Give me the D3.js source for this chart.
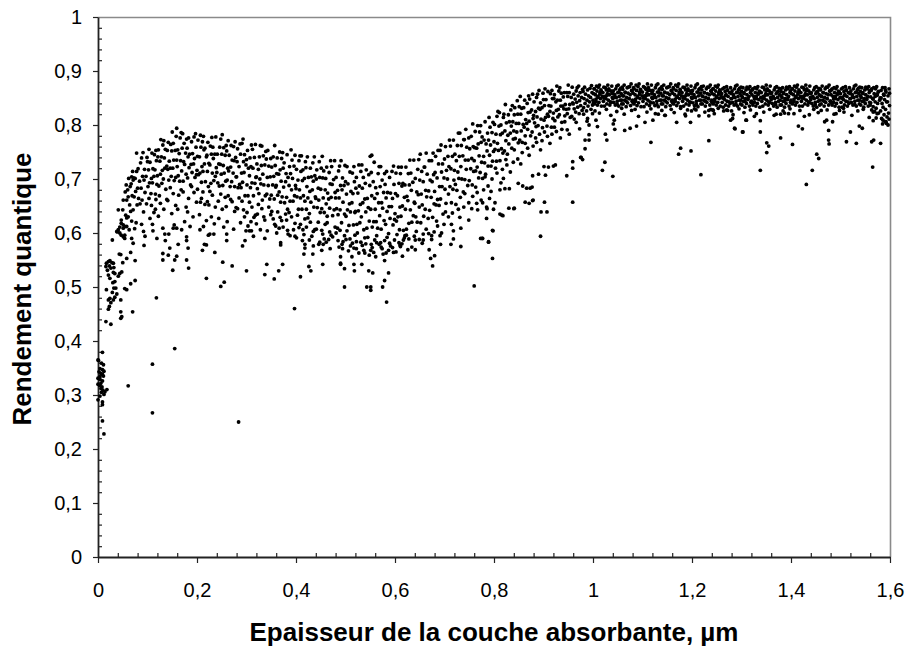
<!DOCTYPE html>
<html><head><meta charset="utf-8">
<script src="https://cdn.jsdelivr.net/npm/d3@7"></script>
<style>
body{margin:0;background:#fff}
svg{display:block}
text{font-family:"Liberation Sans",Arial,Helvetica,sans-serif;fill:#000}
</style>
</head><body>
<svg id="chart" width="909" height="650"></svg>
<script>
// [thickness (µm), quantum yield]
const edgeCluster = [
[.000,.365],[.001,.364],[.009,.379],[.007,.359],[.011,.356],[.004,.349],[.009,.347],[.012,.344],[.006,.340],[.009,.338],[.011,.335],[.000,.331],[.004,.329],[.009,.326],[.006,.322],[.000,.320],[.003,.318],[.008,.315],[.006,.312],[.010,.309],[.014,.306],[.012,.301],[.018,.310],[.000,.291],[.009,.287],[.009,.282],[.009,.252],[.012,.228],[.004,.334],[.002,.343],[.007,.305],[.004,.298],
[.017,.544],[.021,.547],[.024,.549],[.028,.545],[.031,.544],[.023,.539],[.016,.538],[.026,.535],[.032,.536],[.019,.531],[.031,.527],[.021,.522],[.034,.525],[.024,.516],[.030,.508],[.034,.510],[.036,.498],[.032,.498],[.017,.495],[.029,.490],[.038,.487],[.024,.479],[.021,.476],[.031,.476],[.026,.471],[.023,.464],[.021,.459],[.046,.476],[.034,.481],[.016,.436],[.026,.431],[.046,.442],[.048,.445],[.046,.454],
[.043,.561],[.046,.560],[.050,.545],[.048,.528],[.044,.525],[.041,.520],[.029,.587],[.038,.603],[.041,.606],[.044,.600],[.047,.596],[.051,.593],[.054,.590],[.051,.615],[.054,.612],[.047,.618],[.058,.612],[.039,.602],[.044,.611],[.051,.609],[.054,.596],[.056,.633],[.050,.643],[.041,.643],[.051,.661],[.058,.661],[.055,.676],[.057,.689],[.047,.624],[.058,.628]
];
const rampA = [
[.061,.667],[.065,.686],[.071,.698],[.068,.704],[.075,.701],[.078,.748],
[.063,.606],[.074,.608],[.068,.622],[.077,.619],[.061,.630],[.071,.643],[.066,.640],[.079,.652],[.064,.652],[.073,.667],[.069,.669],[.060,.680],[.076,.677],[.067,.691],[.072,.702],[.062,.701],[.078,.714],[.070,.714],
[.092,.639],[.085,.654],[.098,.654],[.082,.664],[.089,.661],[.095,.675],[.080,.683],[.087,.683],[.093,.698],[.084,.696],[.097,.705],[.090,.705],[.081,.719],[.094,.718],[.086,.730],[.099,.740],[.088,.739],[.091,.749],
[.107,.673],[.116,.672],[.101,.686],[.110,.693],[.119,.690],[.104,.693],[.113,.705],[.108,.701],[.102,.717],[.115,.717],[.111,.719],[.105,.731],[.118,.734],[.100,.732],[.109,.748],[.114,.745],[.103,.755],[.117,.753],
[.137,.681],[.129,.692],[.123,.687],[.132,.700],[.126,.709],[.120,.706],[.135,.720],[.130,.716],[.139,.724],[.125,.733],[.121,.741],[.134,.739],[.128,.741],[.136,.755],[.122,.754],[.131,.763],[.127,.773],[.133,.771],
[.143,.698],[.154,.697],[.148,.705],[.157,.703],[.141,.718],[.151,.720],[.146,.720],[.159,.735],[.144,.733],[.153,.735],[.149,.752],[.140,.753],[.156,.753],[.147,.764],[.152,.766],[.142,.768],[.158,.779],[.150,.787],[.159,.794],
[.172,.696],[.165,.696],[.178,.709],[.162,.706],[.169,.715],[.175,.727],[.160,.723],[.167,.734],[.173,.732],[.164,.747],[.177,.748],[.170,.757],[.161,.754],[.174,.766],[.166,.776],[.179,.774],[.168,.786],[.171,.784],
[.187,.689],[.196,.703],[.181,.702],[.190,.712],[.199,.708],[.184,.721],[.193,.728],[.188,.727],[.182,.741],[.195,.738],[.191,.747],[.185,.746],[.198,.759],[.180,.757],[.189,.769],[.194,.778],[.183,.776],[.197,.784],
[.217,.695],[.209,.694],[.203,.708],[.212,.714],[.206,.711],[.200,.716],[.215,.728],[.210,.723],[.219,.741],[.205,.741],[.201,.742],[.214,.754],[.208,.759],[.216,.757],[.202,.772],[.211,.769],[.207,.781],[.213,.779],
[.223,.686],[.234,.697],[.228,.692],[.237,.705],[.221,.714],[.231,.711],[.226,.726],[.239,.721],[.224,.729],[.233,.738],[.229,.746],[.220,.744],[.236,.746],[.227,.761],[.232,.759],[.222,.768],[.238,.778],[.230,.777],
[.252,.688],[.245,.687],[.258,.696],[.242,.693],[.249,.709],[.255,.711],[.240,.712],[.247,.727],[.253,.725],[.244,.728],[.257,.744],[.250,.746],[.241,.746],[.254,.758],[.246,.759],[.259,.762],[.248,.774],[.251,.782],
[.267,.686],[.276,.686],[.261,.698],[.270,.695],[.279,.704],[.264,.715],[.273,.711],[.268,.722],[.262,.720],[.275,.734],[.271,.735],[.265,.744],[.278,.740],[.260,.752],[.269,.762],[.274,.760],[.263,.771],[.277,.769],
[.297,.669],[.289,.684],[.283,.684],[.292,.694],[.286,.690],[.280,.704],[.295,.712],[.290,.711],[.299,.726],[.285,.723],[.281,.732],[.294,.732],[.288,.746],[.296,.745],[.282,.756],[.291,.766],[.287,.765],[.293,.774],
[.103,.664],[.108,.651],[.113,.638],[.117,.662],[.105,.627],[.111,.604],[.116,.644],
[.124,.669],[.126,.655],[.133,.644],[.139,.662],[.122,.631],[.131,.609],[.136,.586],
[.146,.684],[.141,.660],[.157,.651],[.152,.673],[.149,.636],[.154,.615],[.143,.598],
[.168,.680],[.163,.670],[.178,.648],[.172,.676],[.161,.644],[.175,.621],[.169,.606],
[.189,.686],[.183,.664],[.199,.657],[.194,.675],[.181,.639],[.192,.630],[.186,.612],
[.201,.681],[.209,.664],[.216,.653],[.212,.676],[.205,.634],[.219,.623],[.207,.657],
[.226,.677],[.221,.658],[.237,.648],[.231,.670],[.229,.630],[.235,.617],[.224,.652],
[.248,.672],[.243,.659],[.251,.644],[.257,.666],[.244,.627],[.254,.611],[.259,.649],
[.263,.669],[.271,.658],[.276,.640],[.268,.662],[.261,.621],[.274,.607],[.279,.647],
[.285,.665],[.282,.645],[.296,.630],[.291,.659],[.288,.619],[.299,.604],[.294,.643]
];
const rampB = [
[.303,.669],[.314,.669],[.308,.684],[.317,.692],[.301,.689],[.311,.693],[.306,.706],[.319,.703],[.304,.720],[.313,.720],[.309,.723],[.300,.736],[.316,.740],[.307,.739],[.312,.755],[.302,.753],[.318,.764],[.310,.763],
[.332,.661],[.325,.673],[.338,.669],[.322,.682],[.329,.691],[.335,.689],[.320,.704],[.327,.700],[.333,.709],[.324,.718],[.337,.726],[.330,.725],[.321,.728],[.334,.743],[.326,.741],[.339,.751],[.328,.762],[.331,.761],
[.347,.663],[.356,.663],[.341,.672],[.350,.670],[.359,.685],[.344,.688],[.353,.689],[.348,.704],[.342,.703],[.355,.705],[.351,.722],[.345,.724],[.358,.725],[.340,.737],[.349,.738],[.354,.741],[.343,.753],[.357,.762],
[.377,.656],[.369,.657],[.363,.670],[.372,.667],[.366,.676],[.360,.688],[.375,.685],[.370,.696],[.379,.695],[.365,.709],[.361,.710],[.374,.720],[.368,.717],[.376,.730],[.362,.739],[.371,.738],[.367,.750],[.373,.749],
[.383,.644],[.394,.659],[.388,.659],[.397,.669],[.381,.666],[.391,.680],[.386,.688],[.399,.688],[.384,.703],[.393,.701],[.389,.710],[.380,.710],[.396,.724],[.387,.723],[.392,.735],[.382,.745],[.398,.744],[.390,.754],
[.412,.644],[.405,.644],[.418,.659],[.402,.667],[.409,.665],[.415,.669],[.400,.682],[.407,.680],[.413,.697],[.404,.698],[.417,.701],[.410,.714],[.401,.718],[.414,.717],[.406,.734],[.419,.732],[.408,.743],[.411,.743],
[.427,.636],[.436,.648],[.421,.644],[.430,.657],[.439,.667],[.424,.665],[.433,.680],[.428,.677],[.422,.686],[.435,.696],[.431,.704],[.425,.703],[.438,.706],[.420,.721],[.429,.720],[.434,.730],[.423,.741],[.437,.741],
[.457,.638],[.449,.638],[.443,.647],[.452,.645],[.446,.661],[.440,.664],[.455,.665],[.450,.681],[.459,.680],[.445,.683],[.441,.700],[.454,.702],[.448,.703],[.456,.715],[.442,.717],[.451,.720],[.447,.732],[.453,.742],
[.463,.631],[.474,.632],[.468,.646],[.477,.643],[.461,.654],[.471,.666],[.466,.663],[.479,.675],[.464,.674],[.473,.690],[.469,.691],[.460,.701],[.476,.699],[.467,.712],[.472,.723],[.462,.722],[.478,.734],[.470,.734],
[.492,.619],[.485,.634],[.498,.635],[.482,.645],[.489,.643],[.495,.657],[.480,.665],[.487,.665],[.493,.680],[.484,.679],[.497,.688],[.490,.688],[.481,.703],[.494,.702],[.486,.715],[.499,.725],[.488,.724],[.491,.734],
[.507,.614],[.516,.615],[.501,.631],[.510,.639],[.519,.638],[.504,.643],[.513,.656],[.508,.654],[.502,.672],[.515,.673],[.511,.677],[.505,.691],[.518,.695],[.500,.695],[.509,.713],[.514,.711],[.503,.723],[.517,.723],
[.537,.606],[.529,.619],[.523,.616],[.532,.630],[.526,.641],[.520,.640],[.535,.656],[.530,.653],[.539,.663],[.525,.674],[.521,.683],[.534,.683],[.528,.687],[.536,.703],[.522,.703],[.531,.714],[.527,.726],[.533,.726],
[.543,.609],[.554,.611],[.548,.622],[.557,.621],[.541,.639],[.551,.644],[.546,.647],[.559,.664],[.544,.664],[.553,.669],[.549,.688],[.540,.692],[.556,.695],[.547,.708],[.552,.712],[.542,.717],[.558,.731],[.550,.742],[.553,.744],
[.572,.607],[.565,.609],[.578,.623],[.562,.621],[.569,.632],[.575,.646],[.560,.644],[.567,.656],[.573,.656],[.564,.673],[.577,.675],[.570,.686],[.561,.684],[.574,.698],[.566,.710],[.579,.710],[.568,.723],[.571,.723],
[.587,.599],[.596,.615],[.581,.616],[.590,.627],[.599,.625],[.584,.640],[.593,.649],[.588,.649],[.582,.665],[.595,.664],[.591,.674],[.585,.675],[.598,.690],[.580,.690],[.589,.703],[.594,.714],[.583,.714],[.597,.724],
[.306,.657],[.301,.638],[.315,.629],[.311,.648],[.303,.613],[.318,.633],[.309,.621],
[.324,.653],[.322,.635],[.337,.624],[.331,.645],[.328,.606],[.335,.630],[.320,.617],
[.345,.648],[.349,.634],[.357,.616],[.351,.640],[.342,.604],[.354,.626],[.359,.613],
[.363,.639],[.368,.629],[.374,.611],[.379,.635],[.361,.600],[.371,.623],[.366,.609],
[.386,.638],[.381,.624],[.395,.606],[.391,.630],[.388,.595],[.398,.618],[.383,.605],
[.403,.633],[.409,.616],[.414,.606],[.418,.626],[.401,.591],[.406,.610],[.416,.597],
[.424,.628],[.421,.611],[.435,.603],[.429,.620],[.427,.587],[.438,.606],[.432,.594],
[.445,.620],[.441,.607],[.454,.598],[.459,.616],[.448,.583],[.452,.605],[.457,.589],
[.463,.619],[.468,.602],[.474,.593],[.479,.611],[.461,.583],[.471,.596],[.466,.588],
[.484,.609],[.481,.600],[.495,.584],[.489,.605],[.487,.574],[.498,.595],[.493,.579],
[.503,.604],[.509,.589],[.514,.581],[.519,.596],[.506,.567],[.501,.588],[.517,.572],
[.524,.600],[.522,.584],[.534,.577],[.539,.591],[.527,.563],[.531,.583],[.537,.568],
[.545,.592],[.541,.580],[.554,.573],[.559,.587],[.548,.559],[.552,.579],[.557,.564],
[.563,.595],[.568,.579],[.574,.571],[.579,.586],[.561,.556],[.572,.574],[.576,.561],
[.584,.592],[.589,.581],[.595,.573],[.599,.587],[.582,.563],[.591,.576],[.597,.564]
];
const rampC = [
[.617,.605],[.609,.606],[.603,.622],[.612,.631],[.606,.630],[.600,.636],[.615,.650],[.610,.648],[.619,.666],[.605,.669],[.601,.673],[.614,.687],[.608,.692],[.616,.692],[.602,.711],[.611,.710],[.607,.722],[.613,.722],
[.623,.607],[.634,.620],[.628,.618],[.637,.632],[.621,.644],[.631,.643],[.626,.660],[.639,.657],[.624,.668],[.633,.679],[.629,.689],[.620,.689],[.636,.694],[.627,.710],[.632,.711],[.622,.722],[.638,.735],[.630,.735],
[.652,.619],[.645,.620],[.658,.631],[.642,.630],[.649,.648],[.655,.652],[.640,.655],[.647,.671],[.653,.672],[.644,.676],[.657,.695],[.650,.698],[.641,.701],[.654,.714],[.646,.718],[.659,.722],[.648,.736],[.651,.746],
[.667,.627],[.676,.629],[.661,.644],[.670,.642],[.679,.654],[.664,.667],[.673,.666],[.668,.678],[.662,.679],[.675,.695],[.671,.698],[.665,.709],[.678,.708],[.660,.722],[.669,.734],[.674,.734],[.663,.748],[.677,.748],
[.697,.635],[.689,.651],[.683,.652],[.692,.663],[.686,.662],[.680,.677],[.695,.686],[.690,.686],[.699,.702],[.685,.702],[.681,.712],[.694,.713],[.688,.728],[.696,.728],[.682,.742],[.691,.753],[.687,.753],[.693,.763],
[.703,.655],[.714,.656],[.708,.672],[.717,.681],[.701,.681],[.711,.686],[.706,.700],[.719,.698],[.704,.716],[.713,.719],[.709,.723],[.700,.737],[.716,.742],[.707,.742],[.712,.761],[.702,.760],[.718,.772],[.710,.772],
[.732,.666],[.725,.679],[.738,.676],[.722,.690],[.729,.701],[.735,.700],[.720,.716],[.727,.713],[.733,.723],[.724,.734],[.737,.743],[.730,.742],[.721,.746],[.734,.762],[.726,.762],[.739,.773],[.728,.785],[.731,.785],
[.747,.688],[.756,.689],[.741,.699],[.750,.697],[.759,.714],[.744,.718],[.753,.719],[.748,.735],[.742,.735],[.755,.738],[.751,.756],[.745,.759],[.758,.760],[.740,.773],[.749,.776],[.754,.779],[.743,.792],[.757,.802],
[.777,.701],[.769,.702],[.763,.715],[.772,.712],[.766,.722],[.760,.734],[.775,.731],[.770,.743],[.779,.742],[.765,.757],[.761,.758],[.774,.768],[.768,.765],[.776,.778],[.762,.788],[.771,.787],[.767,.799],[.773,.799],
[.783,.709],[.794,.724],[.788,.724],[.797,.733],[.781,.730],[.791,.744],[.786,.752],[.799,.751],[.784,.765],[.793,.763],[.789,.772],[.780,.772],[.796,.786],[.787,.785],[.792,.796],[.782,.806],[.798,.805],[.790,.814],
[.812,.734],[.805,.733],[.818,.748],[.802,.755],[.809,.753],[.815,.756],[.800,.769],[.807,.766],[.813,.782],[.804,.783],[.817,.785],[.810,.798],[.801,.801],[.814,.800],[.806,.816],[.819,.814],[.808,.825],[.811,.823],
[.827,.746],[.836,.757],[.821,.752],[.830,.765],[.839,.774],[.824,.771],[.833,.785],[.828,.781],[.822,.789],[.835,.798],[.831,.806],[.825,.804],[.838,.806],[.820,.820],[.829,.819],[.834,.828],[.823,.838],[.837,.836],
[.857,.768],[.849,.767],[.843,.775],[.852,.772],[.846,.787],[.840,.789],[.855,.789],[.850,.803],[.859,.801],[.845,.803],[.841,.819],[.854,.820],[.848,.820],[.856,.831],[.842,.832],[.851,.834],[.847,.845],[.853,.853],
[.863,.780],[.874,.780],[.868,.792],[.877,.787],[.861,.796],[.871,.807],[.866,.803],[.879,.812],[.864,.810],[.873,.824],[.869,.823],[.860,.832],[.876,.828],[.867,.840],[.872,.848],[.862,.846],[.878,.857],[.870,.854],
[.892,.783],[.885,.797],[.898,.795],[.882,.804],[.889,.799],[.895,.811],[.880,.818],[.887,.815],[.893,.829],[.884,.825],[.897,.832],[.890,.831],[.881,.843],[.894,.841],[.886,.851],[.899,.859],[.888,.857],[.891,.864],
[.907,.798],[.916,.796],[.901,.809],[.910,.816],[.919,.812],[.904,.814],[.913,.825],[.908,.820],[.902,.836],[.915,.835],[.911,.836],[.905,.847],[.918,.849],[.900,.847],[.909,.862],[.914,.858],[.903,.867],[.917,.864],
[.937,.805],[.929,.815],[.923,.808],[.932,.819],[.926,.827],[.920,.822],[.935,.835],[.930,.829],[.939,.835],[.925,.843],[.921,.849],[.934,.846],[.928,.846],[.936,.859],[.922,.856],[.931,.863],[.927,.872],[.933,.869],
[.943,.817],[.954,.814],[.948,.821],[.957,.816],[.941,.830],[.951,.830],[.946,.829],[.959,.841],[.944,.838],[.953,.838],[.949,.853],[.940,.852],[.956,.851],[.947,.860],[.952,.860],[.942,.860],[.958,.870],[.950,.874],
[.972,.821],[.965,.824],[.978,.827],[.962,.830],[.969,.833],[.975,.836],[.960,.839],[.967,.842],[.973,.845],[.964,.848],[.977,.851],[.970,.854],[.961,.857],[.974,.860],[.966,.863],[.979,.866],[.968,.869],[.971,.872],
[.987,.826],[.996,.829],[.981,.832],[.990,.835],[.999,.837],[.984,.840],[.993,.843],[.988,.846],[.982,.849],[.995,.851],[.991,.854],[.985,.857],[.998,.860],[.980,.862],[.989,.865],[.994,.868],[.983,.870],[.997,.873],
[.604,.597],[.608,.582],[.611,.575],[.619,.591],[.602,.565],[.614,.580],
[.623,.596],[.628,.589],[.634,.574],[.639,.594],[.626,.569],
[.643,.603],[.649,.588],[.655,.581],[.657,.598],
[.663,.607],[.668,.599],[.674,.588],[.679,.602],
[.684,.622],[.686,.613],[.694,.600],[.699,.616],
[.702,.639],[.708,.630],[.714,.616],[.716,.637],
[.723,.653],[.728,.644],[.731,.629],[.739,.648],
[.741,.673],[.749,.656],[.755,.645],[.757,.668],
[.763,.685],[.766,.675],[.774,.661],[.779,.680],
[.782,.704],[.788,.687],[.794,.677],[.796,.700],
[.803,.720],[.806,.711],[.814,.693],[.817,.718],
[.824,.736],[.826,.726],[.833,.713],[.839,.731],
[.841,.754],[.848,.737],[.854,.728],[.857,.749],
[.863,.766],[.868,.757],[.871,.744],[.879,.761],
[.884,.776],[.886,.768],[.894,.754],[.897,.771],
[.902,.787],[.908,.779],[.913,.766],[.917,.783],
[.922,.796],[.926,.788],[.934,.776],[.937,.792],
[.943,.806],[.948,.791],[.952,.783],
[.962,.811],[.966,.805],[.973,.793],
[.981,.820],[.988,.807],[.992,.800]
];
const plateauA = [
[1.017,.835],[1.009,.837],[1.003,.839],[1.012,.842],[1.006,.844],[1.000,.846],[1.015,.849],[1.010,.851],[1.019,.853],[1.005,.856],[1.001,.858],[1.014,.860],[1.008,.863],[1.016,.865],[1.002,.867],[1.011,.870],[1.007,.872],[1.013,.874],[1.001,.841],[1.006,.848],[1.010,.853],[1.014,.857],[1.017,.862],[1.003,.867],
[1.023,.835],[1.034,.837],[1.028,.839],[1.037,.842],[1.021,.844],[1.031,.846],[1.026,.849],[1.039,.851],[1.024,.853],[1.033,.856],[1.029,.858],[1.020,.860],[1.036,.863],[1.027,.865],[1.032,.867],[1.022,.870],[1.038,.872],[1.030,.874],[1.035,.843],[1.022,.850],[1.028,.855],[1.039,.859],[1.031,.864],[1.025,.869],
[1.052,.835],[1.045,.837],[1.058,.839],[1.042,.842],[1.049,.844],[1.055,.846],[1.040,.849],[1.047,.851],[1.053,.853],[1.044,.856],[1.057,.858],[1.050,.860],[1.041,.863],[1.054,.865],[1.046,.867],[1.059,.870],[1.048,.872],[1.051,.874],[1.049,.838],[1.058,.846],[1.044,.851],[1.052,.861],[1.040,.858],[1.056,.868],
[1.067,.834],[1.076,.836],[1.061,.839],[1.070,.841],[1.079,.844],[1.064,.846],[1.073,.849],[1.068,.851],[1.062,.854],[1.075,.856],[1.071,.859],[1.065,.861],[1.078,.864],[1.060,.866],[1.069,.869],[1.074,.871],[1.063,.874],[1.077,.876],[1.067,.844],[1.073,.849],[1.060,.854],[1.079,.863],[1.065,.860],[1.071,.870],
[1.097,.834],[1.089,.836],[1.083,.839],[1.092,.841],[1.086,.844],[1.080,.846],[1.095,.849],[1.090,.851],[1.099,.854],[1.085,.856],[1.081,.859],[1.094,.861],[1.088,.864],[1.096,.866],[1.082,.869],[1.091,.871],[1.087,.874],[1.093,.876],[1.081,.841],[1.086,.848],[1.090,.853],[1.094,.857],[1.097,.862],[1.083,.867],
[1.103,.834],[1.114,.836],[1.108,.839],[1.117,.841],[1.101,.844],[1.111,.846],[1.106,.849],[1.119,.851],[1.104,.854],[1.113,.856],[1.109,.859],[1.100,.861],[1.116,.864],[1.107,.866],[1.112,.869],[1.102,.871],[1.118,.874],[1.110,.876],[1.115,.843],[1.102,.850],[1.108,.855],[1.119,.859],[1.111,.864],[1.105,.869],
[1.132,.834],[1.125,.836],[1.138,.839],[1.122,.841],[1.129,.844],[1.135,.846],[1.120,.849],[1.127,.851],[1.133,.854],[1.124,.856],[1.137,.859],[1.130,.861],[1.121,.864],[1.134,.866],[1.126,.869],[1.139,.871],[1.128,.874],[1.131,.876],[1.129,.838],[1.138,.846],[1.124,.851],[1.132,.861],[1.120,.858],[1.136,.868],
[1.147,.834],[1.156,.836],[1.141,.839],[1.150,.841],[1.159,.844],[1.144,.846],[1.153,.849],[1.148,.851],[1.142,.854],[1.155,.856],[1.151,.859],[1.145,.861],[1.158,.864],[1.140,.866],[1.149,.869],[1.154,.871],[1.143,.874],[1.157,.876],[1.147,.844],[1.153,.849],[1.140,.854],[1.159,.863],[1.145,.860],[1.151,.870],
[1.177,.834],[1.169,.836],[1.163,.839],[1.172,.841],[1.166,.844],[1.160,.846],[1.175,.849],[1.170,.851],[1.179,.854],[1.165,.856],[1.161,.859],[1.174,.861],[1.168,.864],[1.176,.866],[1.162,.869],[1.171,.871],[1.167,.874],[1.173,.876],[1.161,.841],[1.166,.848],[1.170,.853],[1.174,.857],[1.177,.862],[1.163,.867],
[1.183,.835],[1.194,.837],[1.188,.839],[1.197,.842],[1.181,.844],[1.191,.846],[1.186,.849],[1.199,.851],[1.184,.853],[1.193,.856],[1.189,.858],[1.180,.860],[1.196,.863],[1.187,.865],[1.192,.867],[1.182,.870],[1.198,.872],[1.190,.874],[1.195,.843],[1.182,.850],[1.188,.855],[1.199,.859],[1.191,.864],[1.185,.869],
[1.212,.834],[1.205,.836],[1.218,.839],[1.202,.841],[1.209,.844],[1.215,.846],[1.200,.849],[1.207,.851],[1.213,.854],[1.204,.856],[1.217,.859],[1.210,.861],[1.201,.864],[1.214,.866],[1.206,.869],[1.219,.871],[1.208,.874],[1.211,.876],[1.209,.838],[1.218,.846],[1.204,.851],[1.212,.861],[1.200,.858],[1.216,.868],
[1.227,.835],[1.236,.837],[1.221,.839],[1.230,.842],[1.239,.844],[1.224,.846],[1.233,.849],[1.228,.851],[1.222,.853],[1.235,.856],[1.231,.858],[1.225,.860],[1.238,.863],[1.220,.865],[1.229,.867],[1.234,.870],[1.223,.872],[1.237,.874],[1.227,.844],[1.233,.849],[1.220,.854],[1.239,.863],[1.225,.860],[1.231,.870],
[1.257,.835],[1.249,.837],[1.243,.839],[1.252,.842],[1.246,.844],[1.240,.846],[1.255,.849],[1.250,.851],[1.259,.853],[1.245,.856],[1.241,.858],[1.254,.860],[1.248,.863],[1.256,.865],[1.242,.867],[1.251,.870],[1.247,.872],[1.253,.874],[1.241,.841],[1.246,.848],[1.250,.853],[1.254,.857],[1.257,.862],[1.243,.867],
[1.263,.833],[1.274,.835],[1.268,.837],[1.277,.840],[1.261,.842],[1.271,.844],[1.266,.847],[1.279,.849],[1.264,.851],[1.273,.853],[1.269,.856],[1.260,.858],[1.276,.860],[1.267,.862],[1.272,.865],[1.262,.867],[1.278,.869],[1.270,.871],[1.275,.843],[1.262,.850],[1.268,.855],[1.279,.859],[1.271,.864],[1.265,.869],
[1.292,.835],[1.285,.837],[1.298,.839],[1.282,.842],[1.289,.844],[1.295,.846],[1.280,.849],[1.287,.851],[1.293,.853],[1.284,.856],[1.297,.858],[1.290,.860],[1.281,.863],[1.294,.865],[1.286,.867],[1.299,.870],[1.288,.872],[1.291,.874],[1.289,.838],[1.298,.846],[1.284,.851],[1.292,.861],[1.280,.858],[1.296,.868]
];
const plateauB = [
[1.307,.833],[1.316,.835],[1.301,.837],[1.310,.840],[1.319,.842],[1.304,.844],[1.313,.847],[1.308,.849],[1.302,.851],[1.315,.853],[1.311,.856],[1.305,.858],[1.318,.860],[1.300,.862],[1.309,.865],[1.314,.867],[1.303,.869],[1.317,.871],[1.307,.844],[1.313,.849],[1.300,.854],[1.319,.863],[1.305,.860],[1.311,.870],
[1.337,.833],[1.329,.835],[1.323,.837],[1.332,.840],[1.326,.842],[1.320,.844],[1.335,.847],[1.330,.849],[1.339,.851],[1.325,.853],[1.321,.856],[1.334,.858],[1.328,.860],[1.336,.862],[1.322,.865],[1.331,.867],[1.327,.869],[1.333,.871],[1.321,.841],[1.326,.848],[1.330,.853],[1.334,.857],[1.337,.862],[1.323,.867],
[1.343,.835],[1.354,.837],[1.348,.839],[1.357,.842],[1.341,.844],[1.351,.846],[1.346,.849],[1.359,.851],[1.344,.853],[1.353,.856],[1.349,.858],[1.340,.860],[1.356,.863],[1.347,.865],[1.352,.867],[1.342,.870],[1.358,.872],[1.350,.874],[1.355,.843],[1.342,.850],[1.348,.855],[1.359,.859],[1.351,.864],[1.345,.869],
[1.372,.833],[1.365,.835],[1.378,.837],[1.362,.840],[1.369,.842],[1.375,.844],[1.360,.847],[1.367,.849],[1.373,.851],[1.364,.853],[1.377,.856],[1.370,.858],[1.361,.860],[1.374,.862],[1.366,.865],[1.379,.867],[1.368,.869],[1.371,.871],[1.369,.838],[1.378,.846],[1.364,.851],[1.372,.861],[1.360,.858],[1.376,.868],
[1.387,.833],[1.396,.835],[1.381,.837],[1.390,.840],[1.399,.842],[1.384,.844],[1.393,.847],[1.388,.849],[1.382,.851],[1.395,.853],[1.391,.856],[1.385,.858],[1.398,.860],[1.380,.862],[1.389,.865],[1.394,.867],[1.383,.869],[1.397,.871],[1.387,.844],[1.393,.849],[1.380,.854],[1.399,.863],[1.385,.860],[1.391,.870],
[1.417,.835],[1.409,.837],[1.403,.839],[1.412,.842],[1.406,.844],[1.400,.846],[1.415,.849],[1.410,.851],[1.419,.853],[1.405,.856],[1.401,.858],[1.414,.860],[1.408,.863],[1.416,.865],[1.402,.867],[1.411,.870],[1.407,.872],[1.413,.874],[1.401,.841],[1.406,.848],[1.410,.853],[1.414,.857],[1.417,.862],[1.403,.867],
[1.423,.835],[1.434,.837],[1.428,.839],[1.437,.842],[1.421,.844],[1.431,.846],[1.426,.849],[1.439,.851],[1.424,.853],[1.433,.856],[1.429,.858],[1.420,.860],[1.436,.863],[1.427,.865],[1.432,.867],[1.422,.870],[1.438,.872],[1.430,.874],[1.435,.843],[1.422,.850],[1.428,.855],[1.439,.859],[1.431,.864],[1.425,.869],
[1.452,.833],[1.445,.835],[1.458,.837],[1.442,.840],[1.449,.842],[1.455,.844],[1.440,.847],[1.447,.849],[1.453,.851],[1.444,.853],[1.457,.856],[1.450,.858],[1.441,.860],[1.454,.862],[1.446,.865],[1.459,.867],[1.448,.869],[1.451,.871],[1.449,.838],[1.458,.846],[1.444,.851],[1.452,.861],[1.440,.858],[1.456,.868],
[1.467,.835],[1.476,.837],[1.461,.839],[1.470,.842],[1.479,.844],[1.464,.846],[1.473,.849],[1.468,.851],[1.462,.853],[1.475,.856],[1.471,.858],[1.465,.860],[1.478,.863],[1.460,.865],[1.469,.867],[1.474,.870],[1.463,.872],[1.477,.874],[1.467,.844],[1.473,.849],[1.460,.854],[1.479,.863],[1.465,.860],[1.471,.870],
[1.497,.833],[1.489,.835],[1.483,.837],[1.492,.840],[1.486,.842],[1.480,.844],[1.495,.847],[1.490,.849],[1.499,.851],[1.485,.853],[1.481,.856],[1.494,.858],[1.488,.860],[1.496,.862],[1.482,.865],[1.491,.867],[1.487,.869],[1.493,.871],[1.481,.841],[1.486,.848],[1.490,.853],[1.494,.857],[1.497,.862],[1.483,.867],
[1.503,.833],[1.514,.835],[1.508,.837],[1.517,.840],[1.501,.842],[1.511,.844],[1.506,.847],[1.519,.849],[1.504,.851],[1.513,.853],[1.509,.856],[1.500,.858],[1.516,.860],[1.507,.862],[1.512,.865],[1.502,.867],[1.518,.869],[1.510,.871],[1.515,.843],[1.502,.850],[1.508,.855],[1.519,.859],[1.511,.864],[1.505,.869],
[1.532,.835],[1.525,.837],[1.538,.839],[1.522,.842],[1.529,.844],[1.535,.846],[1.520,.849],[1.527,.851],[1.533,.853],[1.524,.856],[1.537,.858],[1.530,.860],[1.521,.863],[1.534,.865],[1.526,.867],[1.539,.870],[1.528,.872],[1.531,.874],[1.529,.838],[1.538,.846],[1.524,.851],[1.532,.861],[1.520,.858],[1.536,.868],
[1.547,.833],[1.556,.835],[1.541,.837],[1.550,.840],[1.559,.842],[1.544,.844],[1.553,.847],[1.548,.849],[1.542,.851],[1.555,.853],[1.551,.856],[1.545,.858],[1.558,.860],[1.540,.862],[1.549,.865],[1.554,.867],[1.543,.869],[1.557,.871],[1.547,.844],[1.553,.849],[1.540,.854],[1.559,.863],[1.545,.860],[1.551,.870],
[1.577,.822],[1.569,.825],[1.563,.828],[1.572,.831],[1.566,.834],[1.560,.837],[1.575,.840],[1.570,.843],[1.579,.846],[1.565,.849],[1.561,.852],[1.574,.855],[1.568,.858],[1.576,.861],[1.562,.864],[1.571,.867],[1.567,.869],[1.573,.871],[1.561,.841],[1.566,.848],[1.570,.853],[1.574,.857],[1.577,.862],[1.563,.867],
[1.583,.812],[1.594,.815],[1.588,.819],[1.597,.822],[1.581,.826],[1.591,.829],[1.586,.833],[1.599,.836],[1.584,.840],[1.593,.843],[1.589,.847],[1.580,.850],[1.596,.854],[1.587,.857],[1.592,.861],[1.582,.864],[1.598,.867],[1.590,.869],[1.595,.843],[1.582,.850],[1.588,.855],[1.599,.859],[1.591,.864],[1.585,.869]
];
const scatterLow = [
[.061,.317],[.110,.357],[.110,.267],[.155,.386],[.118,.480],[.070,.454],[.054,.497],[.058,.495],[.066,.506],[.075,.512],[.066,.564],[.075,.549],[.058,.553],[.068,.590],[.071,.581],[.093,.577],[.088,.616],[.092,.603],[.095,.594],[.119,.590],[.110,.616],[.131,.562],[.131,.550],[.142,.559],[.145,.572],[.155,.550],[.159,.557],[.162,.579],[.179,.593],[.179,.586],[.182,.572],[.179,.550],[.183,.535],[.151,.531],[.135,.598],[.152,.609],[.159,.609],[.206,.606],[.213,.612],[.223,.596],[.219,.578],[.219,.516],
[.248,.501],[.255,.509],[.211,.568],[.215,.579],[.236,.564],[.252,.546],[.271,.539],[.300,.530],[.337,.523],[.356,.515],[.365,.530],[.373,.542],[.341,.542],[.409,.519],[.426,.538],[.430,.530],[.454,.542],[.490,.542],[.498,.534],[.518,.530],[.547,.530],[.555,.526],[.579,.549],[.587,.526],[.579,.512],[.575,.500],[.543,.500],[.551,.500],[.551,.494],[.498,.500],[.583,.472],[.397,.460],[.284,.250],
[.226,.598],[.234,.598],[.260,.598],[.260,.586],[.292,.576],[.297,.586],[.306,.604],[.310,.604],[.314,.594],[.337,.590],[.369,.582],[.369,.578],[.384,.598],[.398,.594],[.413,.586],[.418,.579],[.418,.572],[.416,.561],[.434,.561],[.435,.576],[.446,.579],[.455,.579],[.452,.568],[.469,.571],[.485,.586],[.494,.571],[.510,.576],[.513,.556],[.522,.571],[.539,.563],[.551,.568],[.563,.582],[.571,.582],[.587,.568],[.490,.556],[.490,.544],[.517,.542],[.533,.542],
[.615,.557],[.672,.553],[.680,.558],[.676,.539],[.641,.587],[.641,.569],[.669,.569],[.692,.579],[.713,.579],[.733,.575],[.718,.589],[.773,.590],[.777,.590],[.789,.583],[.797,.553],[.797,.605],[.785,.627],[.749,.624],[.733,.609],[.718,.604],[.691,.595],[.674,.595],[.657,.587],[.617,.587],[.610,.578],[.620,.595],[.760,.502],[.894,.594],[.907,.639],[.902,.657],[.959,.657],[.947,.706],[.976,.740],[.959,.720],[.959,.732],[.920,.724],[.901,.723],[.890,.709],[.878,.706],[.878,.660],[.871,.655],[.863,.657],[.841,.646],[.830,.646],[.818,.632],[.812,.635],[.799,.644],[.785,.648],[.767,.643],[.777,.656],[.791,.664],[.802,.656],[.873,.683],[.866,.683],[.858,.687],[.849,.692],[.831,.682],[.822,.682],[.819,.701],[.812,.680],
[.776,.590],[.789,.584],[.798,.604],[.765,.655],[.786,.645],[.816,.633],[.840,.645],[.879,.661],[.895,.639],[.877,.685],[.904,.707],[.910,.722],[.924,.726],
[1.040,.705],[1.019,.716],[1.024,.731],[1.117,.768],[1.173,.746],[1.177,.757],[1.198,.752],[1.218,.708],[1.234,.771],[1.338,.716],[1.351,.767],[1.355,.761],[1.351,.749],[1.338,.787],[1.303,.787],[1.286,.794],[1.309,.809],[1.028,.772],[1.025,.783],[.992,.782],[.992,.772],[.984,.772],[.984,.756],[.975,.740],[.979,.736],[1.041,.802],[1.043,.809],[1.044,.792],[1.064,.790],[1.075,.794],[1.088,.798],[1.105,.805],[1.121,.809],[1.132,.820],[1.169,.805],[1.187,.817],[1.191,.828],[1.208,.828],[1.234,.817],[1.242,.828],[1.270,.828],[1.282,.812],[1.370,.820],[1.009,.797],[1.006,.809],[.999,.821],[.989,.812],
[1.145,.818],[1.197,.805],[1.234,.827],[1.243,.827],[1.272,.827],[1.280,.826],[1.278,.809],[1.287,.793],[1.302,.787],[1.310,.809],[1.330,.821],[1.338,.808],[1.379,.820],[1.387,.822],[1.395,.821],[1.379,.776],[1.403,.764],[1.415,.798],[1.423,.793],[1.427,.816],[1.431,.690],[1.443,.716],[1.452,.746],[1.456,.738],[1.461,.827],[1.468,.806],[1.472,.809],[1.476,.790],[1.476,.772],[1.484,.806],[1.491,.821],[1.507,.824],[1.512,.769],[1.520,.787],[1.532,.766],[1.538,.798],[1.544,.794],[1.563,.769],[1.567,.772],[1.581,.766],[1.565,.722],[1.566,.824],[1.574,.821],[1.586,.809],[1.590,.806],[1.593,.803],[1.477,.765],
[1.004,.826],[1.013,.822],[1.027,.829],[1.036,.818],[1.048,.825],[1.058,.831],[1.063,.820],[1.078,.827],[1.085,.829],[1.092,.816],[1.109,.824],[1.117,.830],[1.126,.821],[1.139,.827],[1.146,.818],[1.158,.829],[1.164,.823],[1.177,.831],[1.186,.820],[1.199,.826],[1.205,.830],[1.214,.817],[1.226,.824],[1.238,.829],[1.245,.821],[1.253,.831],[1.264,.826],[1.283,.819],[1.295,.830],[1.305,.823],[1.318,.828],[1.326,.816],[1.345,.824],[1.357,.829],[1.366,.818],[1.384,.826],[1.398,.830],[1.406,.821],[1.418,.827],[1.437,.819],[1.446,.829],[1.455,.823],[1.473,.828],[1.487,.820],[1.498,.827],[1.506,.831],[1.523,.818],[1.535,.826],[1.546,.829],[1.558,.814],[1.566,.808],[1.572,.813],[1.585,.802],[1.592,.806],[1.598,.811],[1.596,.800]
];

const xTickValues = [0, 0.2, 0.4, 0.6, 0.8, 1, 1.2, 1.4, 1.6];
const yTickValues = [0, 0.1, 0.2, 0.3, 0.4, 0.5, 0.6, 0.7, 0.8, 0.9, 1];
const xMinorStep = 0.04;
const yMinorStep = 0.02;
const xTitle = "Epaisseur de la couche absorbante, µm";
const yTitle = "Rendement quantique";

const points = [].concat(edgeCluster, rampA, rampB, rampC, plateauA, plateauB, scatterLow);

const svg = d3.select("#chart");
const plot = {left: 98, right: 890, top: 17, bottom: 557};

const x = d3.scaleLinear().domain([0, 1.6]).range([plot.left, plot.right]);
const y = d3.scaleLinear().domain([0, 1]).range([plot.bottom, plot.top]);

const fr = d3.formatLocale({decimal: ",", thousands: "\u00a0", grouping: [3], currency: ["", " €"]});
const fmt = fr.format(".1~f");

// frame: top and right edges
svg.append("path")
  .attr("d", `M${plot.left},${plot.top + 0.5}H${plot.right + 0.5}V${plot.bottom}`)
  .attr("fill", "none").attr("stroke", "#8a8a8a").attr("stroke-width", 1.6);

// minor ticks point inwards
const xMinor = d3.range(0, 41).map(i => +(i * xMinorStep).toFixed(2)).filter((d, i) => i % 5 !== 0);
const yMinor = d3.range(0, 51).map(i => +(i * yMinorStep).toFixed(2)).filter((d, i) => i % 5 !== 0);

svg.append("g").attr("transform", `translate(0,${plot.bottom})`)
  .call(d3.axisBottom(x).tickValues(xMinor).tickSize(-4).tickSizeOuter(0).tickFormat(""))
  .call(g => g.select(".domain").remove())
  .call(g => g.selectAll("line").attr("stroke", "#222").attr("stroke-width", 1.2));

svg.append("g").attr("transform", `translate(${plot.left},0)`)
  .call(d3.axisLeft(y).tickValues(yMinor).tickSize(-4).tickSizeOuter(0).tickFormat(""))
  .call(g => g.select(".domain").remove())
  .call(g => g.selectAll("line").attr("stroke", "#222").attr("stroke-width", 1.2));

// major axes
svg.append("g").attr("transform", `translate(0,${plot.bottom})`)
  .call(d3.axisBottom(x).tickValues(xTickValues).tickSize(6).tickSizeOuter(0).tickPadding(20).tickFormat(fmt))
  .call(g => g.select(".domain").attr("stroke", "#222").attr("stroke-width", 1.8))
  .call(g => g.selectAll(".tick line").attr("stroke", "#222").attr("stroke-width", 1.2))
  .call(g => g.selectAll("text").attr("font-size", 20).attr("font-family", "Liberation Sans, Arial, sans-serif").attr("fill", "#000"));

svg.append("g").attr("transform", `translate(${plot.left},0)`)
  .call(d3.axisLeft(y).tickValues(yTickValues).tickSize(5).tickSizeOuter(0).tickPadding(11).tickFormat(fmt))
  .call(g => g.select(".domain").attr("stroke", "#222").attr("stroke-width", 1.8))
  .call(g => g.selectAll(".tick line").attr("stroke", "#222").attr("stroke-width", 1.2))
  .call(g => g.selectAll("text").attr("font-size", 20).attr("font-family", "Liberation Sans, Arial, sans-serif").attr("fill", "#000"));

// data points
svg.append("g")
  .selectAll("circle")
  .data(points)
  .join("circle")
  .attr("cx", d => x(d[0]))
  .attr("cy", d => y(d[1]))
  .attr("r", 1.9)
  .attr("fill", "#000");

// axis titles
svg.append("text")
  .attr("x", (plot.left + plot.right) / 2)
  .attr("y", 641)
  .attr("text-anchor", "middle")
  .attr("font-size", 26)
  .attr("font-weight", "bold")
  .text(xTitle);

svg.append("text")
  .attr("transform", "translate(31,289) rotate(-90)")
  .attr("text-anchor", "middle")
  .attr("font-size", 26)
  .attr("font-weight", "bold")
  .text(yTitle);
</script>
</body></html>
